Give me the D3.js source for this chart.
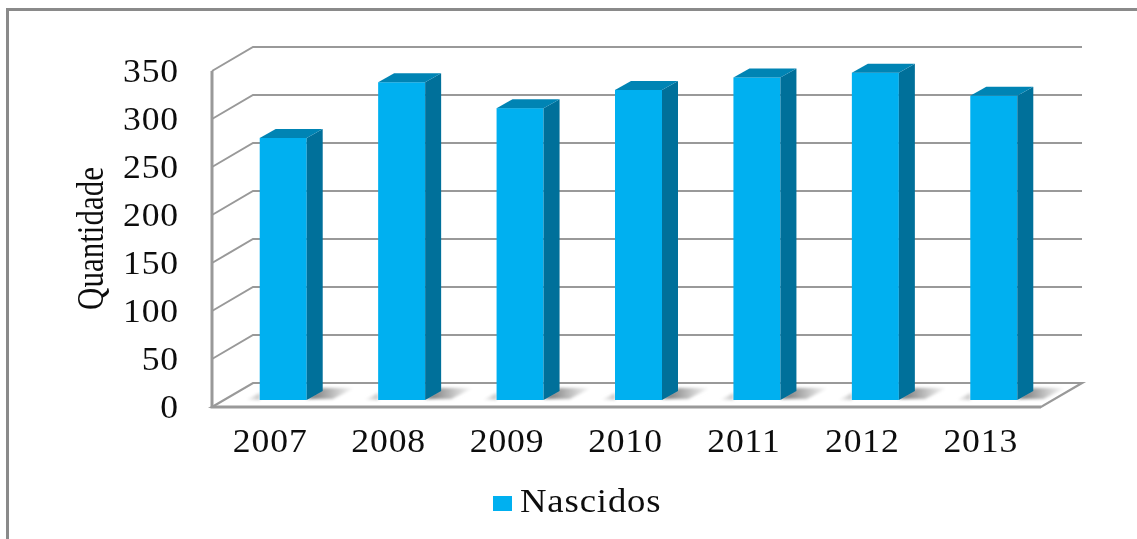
<!DOCTYPE html>
<html><head><meta charset="utf-8"><style>html,body{margin:0;padding:0;background:#fff}svg{display:block}text{font-family:"Liberation Serif",serif;fill:#111}</style>
<script src="https://cdnjs.cloudflare.com/ajax/libs/d3/7.8.5/d3.min.js"></script></head><body><svg id="c" width="1137" height="539"></svg>
<script>
const years=["2007","2008","2009","2010","2011","2012","2013"];
const nascidos=[273,331,304,323,336,341,317];
const yTicks=[0,50,100,150,200,250,300,350];
const seriesName="Nascidos", yTitle="Quantidade";
const svg=d3.select("#c");
const defs=svg.append("defs");
defs.append("filter").attr("id","soft").append("feGaussianBlur").attr("stdDeviation",0.55);
defs.append("filter").attr("id","shBlur").attr("x","-30%").attr("y","-50%").attr("width","160%").attr("height","200%").append("feGaussianBlur").attr("stdDeviation",1.6);
const sg=defs.append("linearGradient").attr("id","shadow").attr("x1",0).attr("x2",1).attr("y1",0).attr("y2",0);
sg.append("stop").attr("offset",0).attr("stop-color","#6e6e6e");
sg.append("stop").attr("offset",1).attr("stop-color","#fff");
const sl=defs.append("linearGradient").attr("id","shadowL").attr("x1",1).attr("x2",0).attr("y1",0).attr("y2",0);
sl.append("stop").attr("offset",0).attr("stop-color","#c4c4c4");
sl.append("stop").attr("offset",1).attr("stop-color","#fff");
const root=svg.append("g").attr("filter","url(#soft)");
const W=1137,H=539;
const plotL=212,plotR=1041,y0=407,y350=71,dx=41,dy=24;
const y=d3.scaleLinear().domain([0,350]).range([y0,y350]);
const x=d3.scaleBand().domain(years).range([plotL,plotR]).paddingInner(0.6).paddingOuter(0.3).align(.5);
// chart frame
root.append("path").attr("d",`M7.5,${H}V9.5H${W}`).attr("fill","none").attr("stroke","#8a8a8a").attr("stroke-width",3);
const grid="#999";
// gridlines
root.selectAll(".g").data(yTicks.slice(1)).join("path").attr("fill","none").attr("stroke",grid).attr("stroke-width",2)
 .attr("d",d=>`M${plotL},${y(d)}L${plotL+dx},${y(d)-dy}H${plotR+dx}`);
// floor
root.append("path").attr("fill","#fff").attr("stroke",grid).attr("stroke-width",2.2)
 .attr("d",`M${plotL},${y0}L${plotL+dx},${y0-dy}H${plotR+dx}L${plotR},${y0}Z`);
root.append("path").attr("fill","none").attr("stroke",grid).attr("stroke-width",3).attr("d",`M${plotL},${y350}V${y0}H${plotR}`);
// bars
const bw=47,bx=d=>x(d)+x.bandwidth()/2-bw/2+12,bBase=y0-7,depX=16,depY=9,k=(y0-y350)/350;
const bars=root.selectAll(".bar").data(years).join("g");
const barTop=(i)=>bBase-nascidos[i]*k;
bars.append("path").attr("fill","url(#shadow)").attr("filter","url(#shBlur)").attr("d",d=>`M${bx(d)+bw},${bBase-1}L${bx(d)+bw+depX},${bBase-depY-3}H${bx(d)+bw+48}L${bx(d)+bw+26},${bBase-1}Z`);
bars.append("path").attr("fill","url(#shadowL)").attr("filter","url(#shBlur)").attr("d",d=>`M${bx(d)},${bBase}V${bBase-7}L${bx(d)-14},${bBase}Z`);
bars.append("rect").attr("x",d=>bx(d)).attr("width",bw).attr("y",(d,i)=>barTop(i)).attr("height",(d,i)=>bBase-barTop(i)).attr("fill","#00b0f0");
bars.append("path").attr("fill","#006f9a").attr("d",(d,i)=>`M${bx(d)+bw},${barTop(i)}l${depX},${-depY}V${bBase-depY}l${-depX},${depY}Z`);
bars.append("path").attr("fill","#0084b4").attr("d",(d,i)=>`M${bx(d)},${barTop(i)}l${depX},${-depY}h${bw}l${-depX},${depY}Z`);
// text, slightly stretched and tracked like the original picture
const sx=1.08,fs=33,track=0.8;
const T=(px,py,s,anchor,size)=>root.append("text").attr("transform",`translate(${px},${py}) scale(${sx},1)`).attr("font-size",size||fs).attr("letter-spacing",track).attr("text-anchor",anchor).text(s);
yTicks.forEach(t=>T(179,y(t)+11,t,"end"));
years.forEach(d=>T(x(d)+x.bandwidth()/2-1,452,d,"middle"));
root.append("text").attr("transform",`translate(103,238.5) scale(1.25,1) rotate(-90)`).attr("font-size",31).attr("text-anchor","middle").text(yTitle);
root.append("rect").attr("x",493).attr("y",496).attr("width",19).attr("height",15).attr("fill","#00b0f0");
T(520,512,seriesName,"start",34);
</script></body></html>
